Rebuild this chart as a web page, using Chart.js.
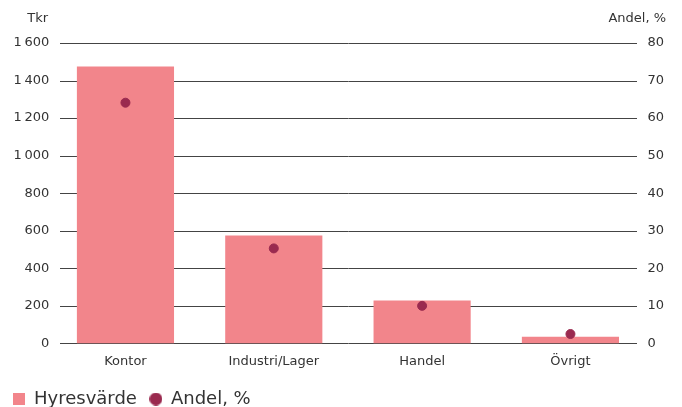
<!DOCTYPE html>
<html>
<head>
<meta charset="utf-8">
<script src="https://cdn.jsdelivr.net/npm/chart.js@4"></script>
<style>
html,body{margin:0;padding:0;background:#fff;}
#wrap{width:682px;height:407px;position:relative;}
</style>
</head>
<body>
<div id="wrap"><canvas id="c"></canvas></div>
<script>
const categories = ['Kontor', 'Industri/Lager', 'Handel', 'Övrigt'];
const hyresvarde = [1475, 575, 228, 36];
const andel = [64.1, 25.3, 10.0, 2.5];
const leftTicks = [0, 200, 400, 600, 800, 1000, 1200, 1400, 1600];
const rightTicks = [0, 10, 20, 30, 40, 50, 60, 70, 80];
const seriesNames = ['Hyresvärde', 'Andel, %'];
const axisTitles = ['Tkr', 'Andel, %'];

const FONT = "'DejaVu Sans', sans-serif";
const TXT = '#333';
const BAR = '#F2858B';
const DOT = '#9A2A4F';

function fmt(v){ return String(v).replace(/\B(?=(\d{3})+(?!\d))/g, '\u2009'); }

function makeIcon(kind, size, color){
  const c = document.createElement('canvas');
  c.width = size; c.height = size;
  const g = c.getContext('2d');
  g.fillStyle = color;
  if (kind === 'rect') { g.fillRect(0, 0, size, size); }
  else { g.beginPath(); g.arc(size/2, size/2, size/2, 0, Math.PI*2); g.fill(); }
  return c;
}
const rectIcon = makeIcon('rect', 12, BAR);
const dotIcon = makeIcon('circle', 13, DOT);

const GRID_L = 60, GRID_R = 637;

const decoPlugin = {
  id: 'deco',
  beforeDatasetsDraw(chart){
    const ctx = chart.ctx, y = chart.scales.y;
    ctx.save();
    ctx.strokeStyle = '#444';
    ctx.lineWidth = 1;
    leftTicks.forEach(v => {
      const py = Math.round(y.getPixelForValue(v)) + 0.5;
      ctx.beginPath(); ctx.moveTo(GRID_L, py); ctx.lineTo(GRID_R, py); ctx.stroke();
    });
    ctx.restore();
  },
  afterDraw(chart){
    const ctx = chart.ctx;
    ctx.save();
    ctx.font = "13px " + FONT;
    ctx.fillStyle = TXT;
    ctx.textBaseline = 'middle';
    ctx.textAlign = 'right';
    ctx.fillText(axisTitles[0], 48, 19);
    ctx.fillText(axisTitles[1], 666, 19);
    ctx.restore();
  }
};

new Chart(document.getElementById('c'), {
  data: {
    labels: categories,
    datasets: [
      {
        type: 'bar',
        label: seriesNames[0],
        data: hyresvarde,
        backgroundColor: BAR,
        yAxisID: 'y',
        order: 2,
        categoryPercentage: 1,
        barPercentage: 0.655,
        pointStyle: rectIcon
      },
      {
        type: 'line',
        label: seriesNames[1],
        data: andel,
        yAxisID: 'y1',
        showLine: false,
        pointRadius: 4.5,
        pointHoverRadius: 4.5,
        backgroundColor: DOT,
        borderColor: DOT,
        pointStyle: 'circle',
        order: 1
      }
    ]
  },
  options: {
    responsive: true,
    maintainAspectRatio: false,
    animation: false,
    layout: { padding: { top: 43, left: 0, right: 0, bottom: -11 } },
    plugins: {
      tooltip: { enabled: false },
      legend: {
        position: 'bottom',
        align: 'start',
        labels: {
          usePointStyle: true,
          boxWidth: 12,
          boxHeight: 13,
          padding: 13,
          color: TXT,
          font: { family: FONT, size: 18 },
          sort: (a, b) => a.datasetIndex - b.datasetIndex,
          generateLabels(chart){
            return chart.data.datasets.map((d, i) => ({
              text: d.label,
              datasetIndex: i,
              fillStyle: i === 0 ? BAR : DOT,
              strokeStyle: 'transparent',
              lineWidth: 0,
              fontColor: TXT,
              pointStyle: i === 0 ? rectIcon : dotIcon,
              hidden: false
            }));
          }
        }
      }
    },
    scales: {
      x: {
        grid: { display: false },
        border: { display: false },
        afterFit(s){ s.height += 6; },
        ticks: { color: TXT, font: { family: FONT, size: 13 }, padding: 2, maxRotation: 0 }
      },
      y: {
        position: 'left',
        min: 0, max: 1600,
        afterBuildTicks(s){ s.ticks = leftTicks.map(v => ({ value: v })); },
        afterFit(s){ s.width = 51.3; },
        grid: { display: false, drawTicks: false },
        border: { display: false },
        ticks: { color: TXT, font: { family: FONT, size: 13 }, padding: 2, callback: v => fmt(v) }
      },
      y1: {
        position: 'right',
        min: 0, max: 80,
        afterBuildTicks(s){ s.ticks = rightTicks.map(v => ({ value: v })); },
        afterFit(s){ s.width = 37.4; },
        grid: { display: false, drawTicks: false },
        border: { display: false },
        ticks: { color: TXT, font: { family: FONT, size: 13 }, padding: 3 }
      }
    }
  },
  plugins: [decoPlugin]
});
</script>
</body>
</html>
